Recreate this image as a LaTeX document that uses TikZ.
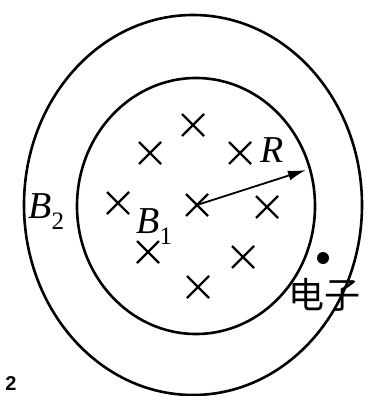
\documentclass[tikz,border=0pt]{standalone}
\usepackage{fontspec}
\usetikzlibrary{calc,arrows.meta}
\setmainfont{Liberation Serif}
\newfontfamily\cjk{Noto Sans CJK SC}
\newfontfamily\numfont{Liberation Sans}
\newcommand{\subnum}[1]{\raisebox{-0.3em}{\fontsize{25}{25}\selectfont\upshape #1}}
\begin{document}
\begin{tikzpicture}[x=1pt,y=-1pt,line width=2.6pt,
  crossmark/.style={line width=2.4pt},
  lbl/.style={font=\fontsize{38}{38}\selectfont\itshape, inner sep=0pt, anchor=base west}]
\useasboundingbox (0,0) rectangle (367,396);
\draw (193,205) ellipse [x radius=169, y radius=190];
\draw (196,206) ellipse [x radius=119, y radius=128];
\foreach \n/\x/\y in {a/193/125, b/150/153, c/240/153, d/118/203, e/197/205, f/267/207, g/148/252, h/243/257, i/198/287} {
  \coordinate (\n) at (\x,\y);
  \draw[crossmark] ($(\n)+(-11,-11)$) -- ($(\n)+(11,11)$) ($(\n)+(-11,11)$) -- ($(\n)+(11,-11)$);
}
\coordinate (tip) at (306,170);
\draw[line width=1.8pt,-{Latex[length=18pt,width=10pt]}] (e) -- (tip);
\node[lbl] (R) at (259,162) {R};
\node[lbl] (B1) at (135,233) {B\subnum{1}};
\node[lbl] (B2) at (27,218) {B\subnum{2}};
\fill (323,258) circle (6);
\node[inner sep=0pt, font=\cjk\fontsize{36}{36}\selectfont] (e2) at (324,295) {电子};
\node[inner sep=0pt, font=\numfont\bfseries\fontsize{20}{20}\selectfont] (n2) at (11,384) {2};
\end{tikzpicture}
\end{document}
